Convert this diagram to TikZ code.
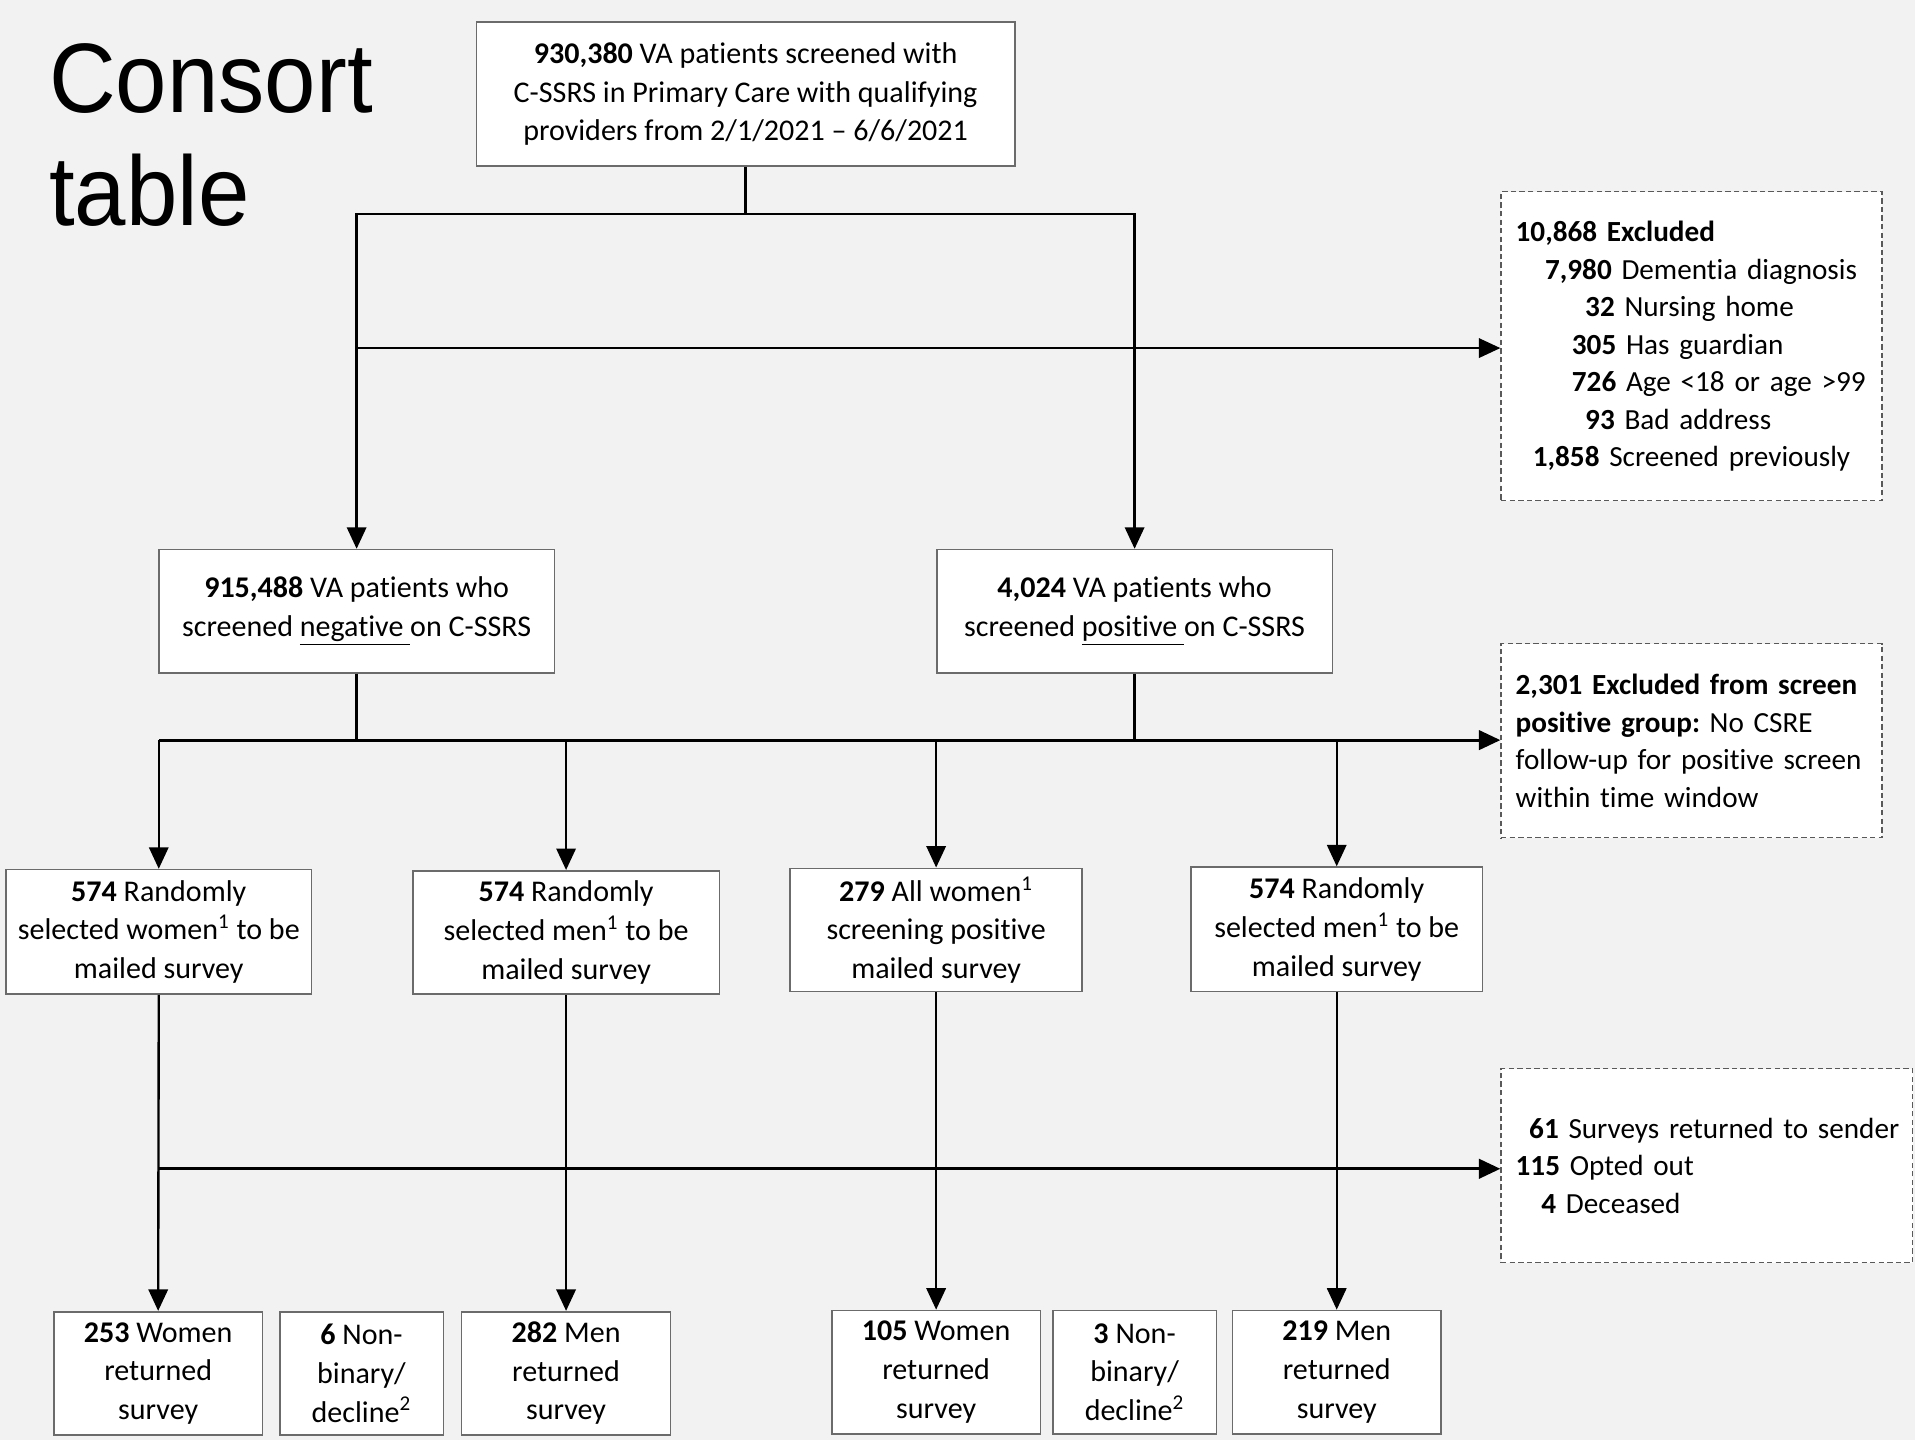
\documentclass[tikz,border=0pt]{standalone}
\usepackage{fontspec}
\setmainfont{Carlito}[Ligatures={TeX,NoCommon}]
\newfontfamily\titlefont[FakeStretch=0.936]{Liberation Sans}
\usetikzlibrary{arrows.meta,positioning}

\begin{document}
\begin{tikzpicture}[x=0.02cm,y=-0.02cm,
  box/.style={draw=cbd,fill=white,line width=0.75pt,align=center,inner sep=2pt,font=\fontsize{14}{18}\selectfont},
  excl/.style={draw=cbx,fill=white,dash pattern=on 2.5pt off 1.5pt,line width=0.6pt,align=left,inner xsep=0.24cm,font=\fontsize{13.6}{17.5}\selectfont},
  link/.style={draw=black,line width=1.1pt},
  post/.style={link,-{Triangle[length=10pt,width=9pt]}}]
%
\useasboundingbox (0,0) rectangle (1568,1179);
%
\definecolor{cbg}{rgb}{0.949,0.949,0.949}
\definecolor{cbd}{rgb}{0.42,0.42,0.42}
\definecolor{cbx}{rgb}{0.35,0.35,0.35}
%
\fill[cbg] (0,0) rectangle (1568,1179);
%
\node[anchor=north west,inner sep=0pt,align=left,font=\titlefont\fontsize{46}{53}\selectfont] (title) at (40,35) {Consort\\table};
%
\node[box,minimum width=8.82cm,minimum height=2.36cm] (top) at (610.5,77) {\textbf{930,380} VA patients screened with\\C-SSRS in Primary Care with qualifying\\providers from 2/1/2021 -- 6/6/2021};
\node[box,minimum width=6.48cm,minimum height=2.02cm] (neg) at (292,500.5) {\textbf{915,488} VA patients who\\screened \underline{negative\ }on C-SSRS};
\node[box,minimum width=6.48cm,minimum height=2.02cm] (pos) at (929,500.5) {\textbf{4,024} VA patients who\\screened \underline{positive\ }on C-SSRS};
%
\node[excl,minimum width=6.24cm,minimum height=5.06cm,text width=5.76cm] (ex1) at (1385,283.5) {\textbf{10,868 Excluded}\\
\mbox{\hspace*{13.7pt}\textbf{7,980} Dementia diagnosis}\\
\mbox{\hspace*{32.4pt}\textbf{32} Nursing home}\\
\mbox{\hspace*{26.2pt}\textbf{305} Has guardian}\\
\mbox{\hspace*{26.2pt}\textbf{726} Age <18 or age >99}\\
\mbox{\hspace*{32.4pt}\textbf{93} Bad address}\\
\mbox{\hspace*{8pt}\textbf{1,858} Screened previously}};
\node[excl,minimum width=6.24cm,minimum height=3.18cm,text width=5.76cm] (ex2) at (1385,606.5) {\mbox{\textbf{2,301 Excluded from screen}}\\\mbox{\textbf{positive group:}\ No CSRE}\\\mbox{follow-up for positive screen}\\\mbox{within time window}};
\node[excl,minimum width=6.74cm,minimum height=3.18cm,text width=6.26cm] (ex3) at (1397.5,954.5) {\mbox{\hspace*{6.3pt}\textbf{61} Surveys returned to sender}\\\mbox{\textbf{115} Opted out}\\\mbox{\hspace*{12pt}\textbf{4} Deceased}};
%
\node[box,minimum width=5.0cm,minimum height=2.04cm] (w1) at (130,763) {\textbf{574} Randomly\\selected women\textsuperscript{1} to be\\mailed survey};
\node[box,minimum width=5.02cm,minimum height=2.02cm] (m1) at (463.5,763.5) {\textbf{574} Randomly\\selected men\textsuperscript{1} to be\\mailed survey};
\node[box,minimum width=4.78cm,minimum height=2.02cm] (w2) at (766.5,761.5) {\textbf{279} All women\textsuperscript{1}\\screening positive\\mailed survey};
\node[box,minimum width=4.78cm,minimum height=2.04cm] (m2) at (1094.5,761) {\textbf{574} Randomly\\selected men\textsuperscript{1} to be\\mailed survey};
%
\node[box,minimum width=3.42cm,minimum height=2.02cm] (b1) at (129.5,1124.5) {\textbf{253} Women\\returned\\survey};
\node[box,minimum width=2.68cm,minimum height=2.02cm] (nb1) at (296,1124.5) {\textbf{6} Non-\\binary/\\decline\textsuperscript{2}};
\node[box,minimum width=3.42cm,minimum height=2.02cm] (b2) at (463.5,1124.5) {\textbf{282} Men\\returned\\survey};
\node[box,minimum width=3.42cm,minimum height=2.02cm] (b3) at (766.5,1123.5) {\textbf{105} Women\\returned\\survey};
\node[box,minimum width=2.68cm,minimum height=2.02cm] (nb2) at (929,1123.5) {\textbf{3} Non-\\binary/\\decline\textsuperscript{2}};
\node[box,minimum width=3.42cm,minimum height=2.02cm] (b4) at (1094.5,1123.5) {\textbf{219} Men\\returned\\survey};
%
\coordinate (j0) at (610.5,175);
\coordinate (j1) at (292,285);
\coordinate (j2) at (130,606);
\coordinate (j3) at (130,957);
%
\draw[link] (top.south) -- (j0);
\draw[post] (j0) -| (neg.north);
\draw[post] (j0) -| (pos.north);
\draw[post] (j1) -- (j1 -| ex1.west);
%
\draw[link] (neg.south) -- (neg.south |- j2);
\draw[link] (pos.south) -- (pos.south |- j2);
\draw[post,line width=1.5pt] (j2) -- (j2 -| ex2.west);
\draw[post] (j2) -- (w1.north);
\draw[post] (m1.north |- j2) -- (m1.north);
\draw[post] (w2.north |- j2) -- (w2.north);
\draw[post] (m2.north |- j2) -- (m2.north);
%
\draw[post] (w1.south) -- (b1.north);
\draw[post] (m1.south) -- (b2.north);
\draw[post] (w2.south) -- (b3.north);
\draw[post] (m2.south) -- (b4.north);
\draw[post,line width=1.5pt] (j3) -- (j3 -| ex3.west);
%
\end{tikzpicture}
\end{document}
